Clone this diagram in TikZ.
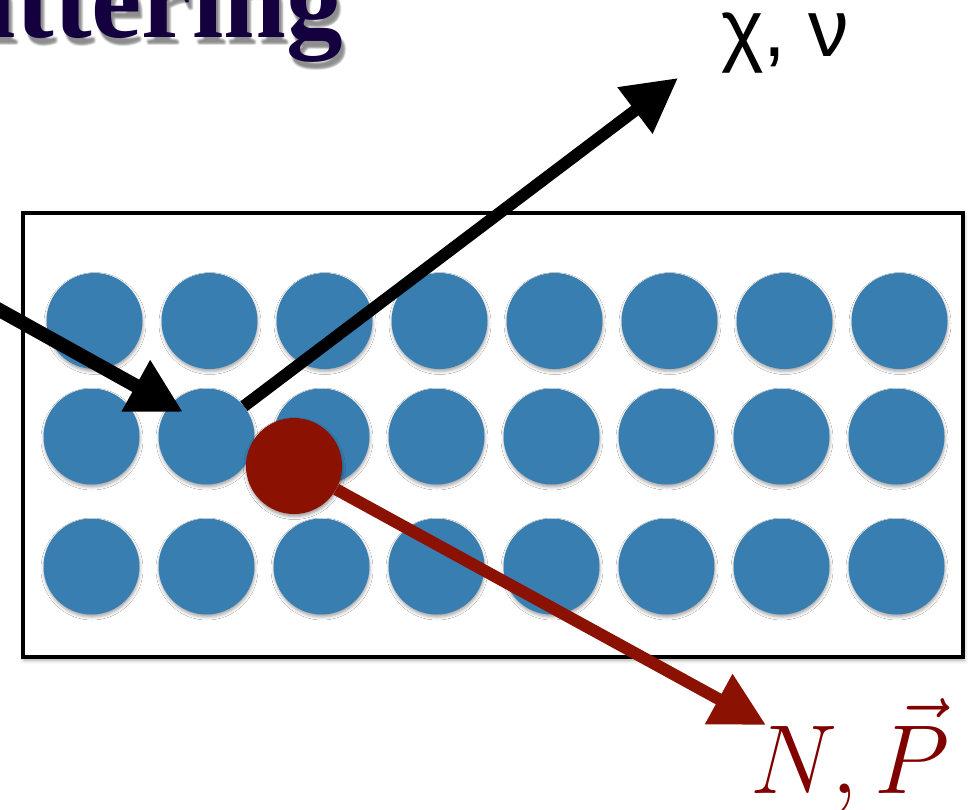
\RequirePackage{fix-cm}
\documentclass[tikz,border=0pt]{standalone}
\usepackage{fontspec}
\newfontfamily\titlefont{Liberation Serif}
\newfontfamily\greekfont{Liberation Sans}
\usetikzlibrary{arrows.meta,shadows.blur}
\definecolor{atomblue}{RGB}{56,126,176}
\definecolor{nucred}{RGB}{139,18,2}
\definecolor{labred}{RGB}{128,0,0}
\definecolor{titlenavy}{RGB}{20,0,62}
\tikzset{
  atom/.style={circle, fill=atomblue, minimum size=96pt, inner sep=0pt,
    blur shadow={shadow xshift=0.5pt, shadow yshift=-2.5pt, shadow blur radius=3pt, shadow opacity=35}},
  nucleus/.style={circle, fill=nucred, minimum size=96pt, inner sep=0pt,
    blur shadow={shadow xshift=0.5pt, shadow yshift=-2.5pt, shadow blur radius=3pt, shadow opacity=40}},
  frame/.style={draw=black, fill=white, line width=4.5pt, minimum width=940pt, minimum height=444pt, inner sep=0pt,
    blur shadow={shadow xshift=1pt, shadow yshift=-3pt, shadow blur radius=4pt, shadow opacity=35}},
  beam/.style={draw=black, line width=13pt, -{Triangle[length=54pt,width=55pt]}},
  recoil/.style={draw=nucred, line width=12pt, -{Triangle[length=54pt,width=54pt]}},
  titletext/.style={anchor=base east, inner sep=0pt, font=\titlefont\bfseries\fontsize{113}{120}\selectfont},
}
\begin{document}
\begin{tikzpicture}[x=1pt,y=-1pt]
\useasboundingbox (0,0) rectangle (971,810);
% title with soft shadow
\foreach \dx/\dy in {2/5,3/6,4/7,3/8,4/6,5/7,2/7,4/8}{
  \node[titletext, text=black, opacity=0.07] at (343+\dx,38+\dy) {attering};
}
\node[titletext, text=titlenavy] (title) at (343,38) {attering};
% frame
\node[frame] (box) at (493,435) {};
% atoms
\foreach \c in {1,...,8}{
  \pgfmathsetmacro{\xa}{94.5+115*(\c-1)}
  \pgfmathsetmacro{\xb}{91.5+115*(\c-1)}
  \node[atom] (a1\c) at (\xa,321) {};
  \node[atom] (a2\c) at (\xb,436.5) {};
  \node[atom] (a3\c) at (\xb,566.5) {};
}
% incoming beam
\coordinate (inStart) at (-6,307);
\coordinate (inTip) at (183,412);
\draw[beam, line width=14pt] (inStart) -- (inTip);
% outgoing chi/nu
\coordinate (chiTip) at (678,78);
\draw[beam, line width=12pt] (a22.39) -- (chiTip);
% recoil nucleus
\coordinate (PTip) at (766,725);
\node[nucleus] (nuc) at (294,466) {};
\draw[recoil] (nuc.-29) -- (PTip);
% labels
\node[anchor=base west, inner sep=0pt, font=\greekfont\fontsize{81}{90}\selectfont] (chi) at (721,57) {χ, ν};
\node[anchor=base west, inner sep=0pt, text=labred, font=\fontsize{98}{110}\selectfont] (NP) at (750,793) {$N,\vec{P}$};
\end{tikzpicture}
\end{document}
